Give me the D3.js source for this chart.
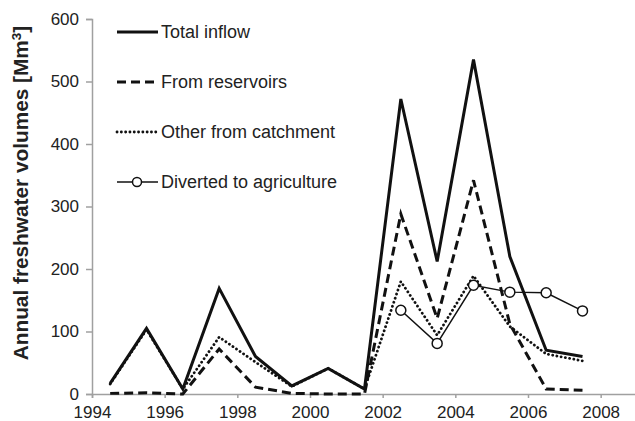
<!DOCTYPE html>
<html>
<head>
<meta charset="utf-8">
<script src="https://cdn.jsdelivr.net/npm/d3@7"></script>
<style>
  html, body { margin: 0; padding: 0; background: #fff; }
  svg { display: block; font-family: "Liberation Sans", Arial, Helvetica, sans-serif; }
</style>
</head>
<body>
<svg id="chart" width="635" height="421"></svg>
<script>
// Hydrological years (plotted at mid-year)
const years = [1994.5, 1995.5, 1996.5, 1997.5, 1998.5, 1999.5, 2000.5,
               2001.5, 2002.5, 2003.5, 2004.5, 2005.5, 2006.5, 2007.5];

// Annual freshwater volumes, Mm³
const totalInflow    = [17, 105, 8, 169, 60, 13, 41, 8, 472, 212, 535, 220, 70, 60];
const fromReservoirs = [1, 2, 0, 72, 11, 1, 0, 0, 288, 121, 342, 112, 8, 6];
const otherCatchment = [16, 103, 8, 91, 51, 12, 41, 8, 180, 94, 189, 108, 64, 53];
const divertedYears  = [2002.5, 2003.5, 2004.5, 2005.5, 2006.5, 2007.5];
const divertedAgri   = [134, 81, 174, 163, 162, 133];

const xTicks = [1994, 1996, 1998, 2000, 2002, 2004, 2006, 2008];
const yTicks = [0, 100, 200, 300, 400, 500, 600];

const seriesNames = ["Total inflow", "From reservoirs", "Other from catchment", "Diverted to agriculture"];

const svg = d3.select("#chart");
const axisColor = "#a0a0a0";
const ink = "#111";

const x = d3.scaleLinear().domain([1994, 2009]).range([92, 637]);
const y = d3.scaleLinear().domain([0, 600]).range([394, 19]);

// Axes
const xAxis = svg.append("g")
  .attr("transform", `translate(0,${y(0)})`)
  .call(d3.axisBottom(x).tickValues(xTicks).tickFormat(d3.format("d")).tickSizeOuter(0).tickSize(4).tickPadding(8));
const yAxis = svg.append("g")
  .attr("transform", `translate(${x(1994)},0)`)
  .call(d3.axisLeft(y).tickValues(yTicks).tickSizeOuter(0).tickSize(6).tickPadding(7));

[xAxis, yAxis].forEach(g => {
  g.select(".domain").attr("stroke", axisColor).attr("stroke-width", 1.5);
  g.selectAll(".tick line").attr("stroke", axisColor).attr("stroke-width", 1.5);
  g.selectAll(".tick text").attr("fill", "#222").style("font-size", "17px");
});

// Y-axis title
svg.append("text")
  .attr("transform", "translate(28,193) rotate(-90)")
  .attr("text-anchor", "middle")
  .attr("fill", "#222")
  .style("font-size", "20.8px")
  .style("font-weight", "bold")
  .html('Annual freshwater volumes [Mm<tspan dy="-7" style="font-size:13.5px">3</tspan><tspan dy="7">]</tspan>');

// Line styles
const styles = {
  total:  { width: 3,   dash: null },
  res:    { width: 3,   dash: "9,5" },
  other:  { width: 2.8, dash: "0.1,4.2", cap: "round" },
  divert: { width: 1.5, dash: null }
};

const line = d3.line().x(d => x(d[0])).y(d => y(d[1]));
const zip = (xs, vs) => xs.map((v, i) => [v, vs[i]]);

function drawLine(data, st) {
  svg.append("path")
    .datum(data)
    .attr("d", line)
    .attr("fill", "none")
    .attr("stroke", ink)
    .attr("stroke-width", st.width)
    .attr("stroke-linejoin", "miter")
    .attr("stroke-linecap", st.cap || "butt")
    .attr("stroke-dasharray", st.dash);
}

drawLine(zip(years, otherCatchment), styles.other);
drawLine(zip(years, fromReservoirs), styles.res);
drawLine(zip(years, totalInflow), styles.total);
drawLine(zip(divertedYears, divertedAgri), styles.divert);

svg.append("g").selectAll("circle")
  .data(zip(divertedYears, divertedAgri))
  .join("circle")
  .attr("cx", d => x(d[0]))
  .attr("cy", d => y(d[1]))
  .attr("r", 5)
  .attr("fill", "#fff")
  .attr("stroke", ink)
  .attr("stroke-width", 1.5);

// Legend
const legendStyles = [styles.total, styles.res, styles.other, styles.divert];
const legend = svg.append("g");
seriesNames.forEach((name, i) => {
  const ly = 32 + i * 50;
  const st = legendStyles[i];
  legend.append("line")
    .attr("x1", 117).attr("x2", 158)
    .attr("y1", ly).attr("y2", ly)
    .attr("stroke", ink)
    .attr("stroke-width", st.width)
    .attr("stroke-linecap", st.cap || "butt")
    .attr("stroke-dasharray", st.dash);
  if (i === 3) {
    legend.append("circle")
      .attr("cx", 137).attr("cy", ly).attr("r", 4.5)
      .attr("fill", "#fff").attr("stroke", ink).attr("stroke-width", 1.5);
  }
  legend.append("text")
    .attr("x", 161).attr("y", ly + 6)
    .attr("fill", "#222")
    .style("font-size", "18px")
    .text(name);
});
</script>
</body>
</html>
